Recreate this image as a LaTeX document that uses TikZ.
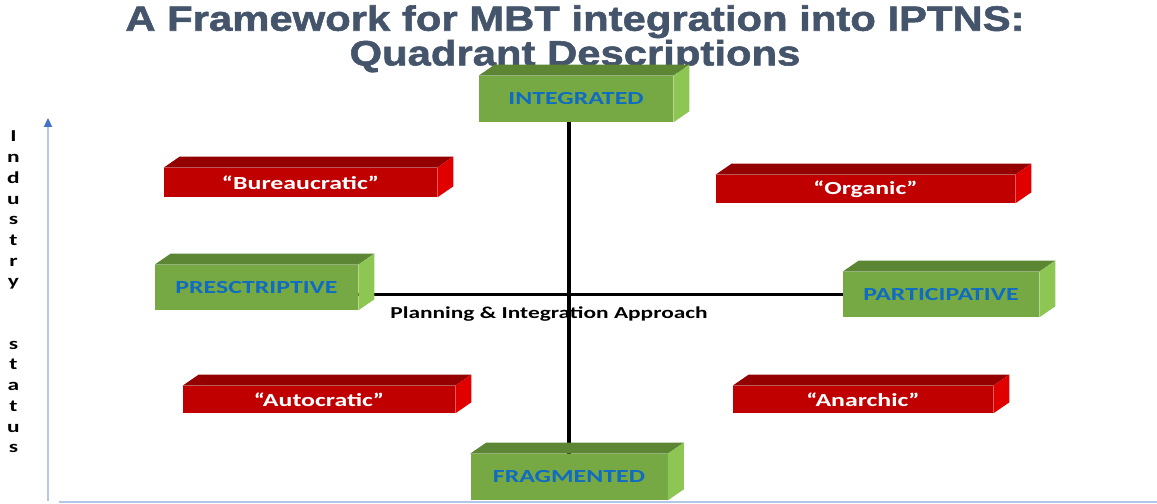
\documentclass[tikz,border=0pt]{standalone}
\usepackage{fontspec}
\setmainfont{Carlito}[FakeStretch=1.4]
\newfontfamily\titlefont{Liberation Sans Bold}[FakeStretch=1.19,FakeBold=1.6]
\usetikzlibrary{arrows.meta}

\definecolor{grnFront}{HTML}{76A944}
\definecolor{grnTop}{HTML}{5C8633}
\definecolor{grnSide}{HTML}{8DC653}
\definecolor{redFront}{HTML}{C00000}
\definecolor{redTop}{HTML}{940000}
\definecolor{redSide}{HTML}{E00000}
\definecolor{labelblue}{HTML}{0F6CC2}
\definecolor{slate}{HTML}{44546A}
\definecolor{axisline}{HTML}{B4C7E7}
\definecolor{axistip}{HTML}{4472C4}

\tikzset{
  slab/.style 2 args={minimum width=#1cm,minimum height=#2cm,inner sep=0pt,
    font=\bfseries\fontsize{10.5}{12}\selectfont},
  grnslab/.style 2 args={slab={#1}{#2},fill=grnFront,text=labelblue},
  redslab/.style 2 args={slab={#1}{#2},fill=redFront,text=white},
  axis/.style={line width=2.1pt}
}

\begin{document}
\begin{tikzpicture}
\useasboundingbox (0,0) rectangle (23.14,10.08);

\node[font=\titlefont\fontsize{20}{17}\selectfont,text=slate,align=center] (title)
  at (11.5,9.3) {A Framework for MBT integration into IPTNS:\\Quadrant Descriptions};

\node[grnslab={3.88}{0.92}] (integ) at (11.52,8.10) {INTEGRATED};
\node[grnslab={3.94}{0.92}] (frag) at (11.38,0.54) {FRAGMENTED};
\node[grnslab={4.06}{0.90}] (presc) at (5.13,4.33) {PRESCTRIPTIVE};
\node[grnslab={3.92}{0.90}] (partic) at (18.82,4.19) {PARTICIPATIVE};
\node[redslab={5.46}{0.58}] (bureau) at (6.01,6.43) {“Bureaucratic”};
\node[redslab={5.98}{0.56}] (organic) at (17.31,6.30) {“Organic”};
\node[redslab={5.44}{0.54}] (auto) at (6.38,2.09) {“Autocratic”};
\node[redslab={5.20}{0.54}] (anarch) at (17.26,2.09) {“Anarchic”};

\node[font=\bfseries\fontsize{9.5}{11}\selectfont,anchor=base] (approach)
  at (10.98,3.70) {Planning \& Integration Approach};
\node[font=\bfseries\fontsize{9.5}{11.8}\selectfont,align=center] (ylabel)
  at (0.27,4.24) {I\\n\\d\\u\\s\\t\\r\\y\\~\\~\\s\\t\\a\\t\\u\\s};

% quadrant axes
\draw[axis] (integ.south -| frag.north) -- (frag.north);
\draw[axis] (partic.west) -- (partic.west -| presc.east);

% top and side faces of the blocks
\foreach \n/\col in {integ/grn,frag/grn,presc/grn,partic/grn,bureau/red,organic/red,auto/red,anarch/red}{
  \fill[fill=\col Top] (\n.north west) -- ++(0.32,0.22) -- ([shift={(0.32,0.22)}]\n.north east) -- (\n.north east) -- cycle;
  \fill[fill=\col Side] (\n.south east) -- ++(0.32,0.22) -- ([shift={(0.32,0.22)}]\n.north east) -- (\n.north east) -- cycle;
}

\coordinate (ybot) at (0.96,0.06);
\coordinate (ytop) at (0.96,7.72);
\coordinate (xleft) at (1.18,0.04);
\coordinate (xright) at (23.14,0.04);
\draw[axisline,line width=1pt,-{Triangle[length=5pt,width=4.5pt,color=axistip]}] (ybot) -- (ytop);
\draw[axisline,line width=1.2pt] (xleft) -- (xright);
\end{tikzpicture}
\end{document}
